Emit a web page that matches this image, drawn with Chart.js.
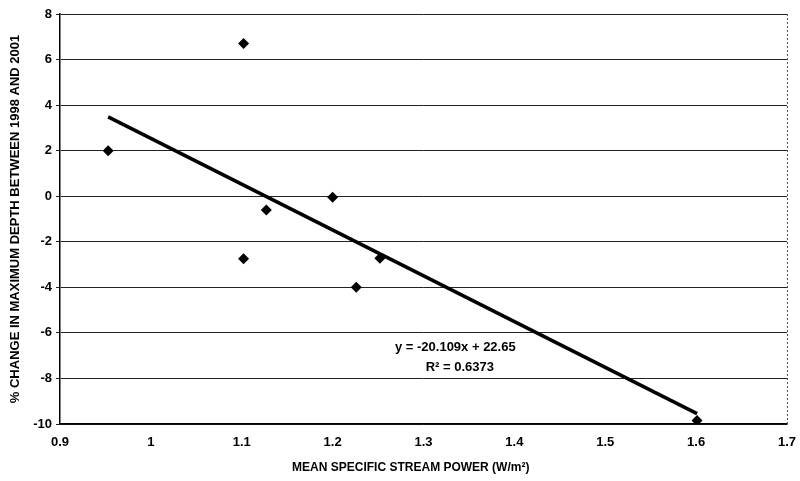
<!DOCTYPE html>
<html>
<head>
<meta charset="utf-8">
<script src="https://cdn.jsdelivr.net/npm/chart.js@4.4.0/dist/chart.umd.min.js"></script>
<style>
  body { margin: 0; background: #fff; }
  #wrap { width: 800px; height: 481px; }
</style>
</head>
<body>
<div id="wrap"><canvas id="chart" width="800" height="481"></canvas></div>
<script>
// measured points (stream power vs % change in max depth)
const streamPower = [0.953, 1.102, 1.127, 1.2, 1.102, 1.226, 1.252, 1.601];
const depthChange = [2.0, 6.7, -0.6, -0.05, -2.75, -4.0, -2.72, -9.85];

// linear trend as printed on the chart
const trendSlope = -20.109;
const trendIntercept = 22.65;
const trendLabels = ['y = -20.109x + 22.65', 'R\u00b2 = 0.6373'];

const xTitle = 'MEAN SPECIFIC STREAM POWER (W/m\u00b2)';
const yTitle = '% CHANGE IN MAXIMUM DEPTH BETWEEN 1998 AND 2001';

const xMin = Math.min(...streamPower);
const xMax = Math.max(...streamPower);
const trendPoints = [xMin, xMax].map(x => ({ x: x, y: trendSlope * x + trendIntercept }));

const fam = '"Liberation Sans", Arial, sans-serif';
const tickFont = { family: fam, weight: 'bold', size: 13 };
const yTitleFont = { family: fam, weight: 'bold', size: 13 };

// right border, x title and equation text
const extras = {
  id: 'extras',
  afterDraw(chart) {
    const ctx = chart.ctx;
    const a = chart.chartArea;
    const xs = chart.scales.x, ys = chart.scales.y;
    ctx.save();
    ctx.strokeStyle = '#555';
    ctx.lineWidth = 1;
    ctx.setLineDash([2, 2]);
    ctx.beginPath();
    ctx.moveTo(a.right + 0.5, a.top);
    ctx.lineTo(a.right + 0.5, a.bottom);
    ctx.stroke();
    ctx.setLineDash([]);

    ctx.fillStyle = '#000';
    ctx.textAlign = 'center';
    ctx.textBaseline = 'middle';
    ctx.font = 'bold 12px ' + fam;
    ctx.fillText(xTitle, xs.getPixelForValue(1.286), 468);

    ctx.font = 'bold 13px ' + fam;
    ctx.fillText(trendLabels[0], xs.getPixelForValue(1.335), ys.getPixelForValue(-6.65));
    ctx.fillText(trendLabels[1], xs.getPixelForValue(1.34), ys.getPixelForValue(-7.5));
    ctx.restore();
  }
};

new Chart(document.getElementById('chart'), {
  type: 'scatter',
  data: {
    datasets: [
      {
        label: 'points',
        data: streamPower.map((x, i) => ({ x: x, y: depthChange[i] })),
        pointStyle: 'rectRot',
        pointRadius: 5.5,
        backgroundColor: '#000',
        borderColor: '#000',
        borderWidth: 0
      },
      {
        type: 'line',
        label: 'trend',
        data: trendPoints,
        borderColor: '#000',
        borderWidth: 3.5,
        pointRadius: 0,
        fill: false
      }
    ]
  },
  options: {
    responsive: false,
    animation: false,
    layout: { padding: { top: 14, right: 13, left: 0, bottom: 0 } },
    plugins: { legend: { display: false }, tooltip: { enabled: false } },
    scales: {
      x: {
        type: 'linear',
        min: 0.9,
        max: 1.7,
        ticks: {
          stepSize: 0.1, color: '#000', font: tickFont, padding: 11,
          callback: v => String(Number(v.toFixed(1)))
        },
        grid: { display: false, drawTicks: false },
        border: { display: true, color: '#000', width: 1.5 },
        afterFit(scale) {
          scale.height = 57;
          scale.paddingLeft = 0;
          scale.paddingRight = 0;
        }
      },
      y: {
        min: -10,
        max: 8,
        ticks: { stepSize: 2, color: '#000', font: tickFont, padding: 4 },
        grid: { color: '#222', lineWidth: 1, drawTicks: true, tickLength: 4 },
        border: { display: true, color: '#000', width: 1.5 },
        title: { display: true, text: yTitle, color: '#000', font: yTitleFont, padding: { top: 8, bottom: 0 } },
        afterFit(scale) { scale.width = 60; }
      }
    }
  },
  plugins: [extras]
});
</script>
</body>
</html>
